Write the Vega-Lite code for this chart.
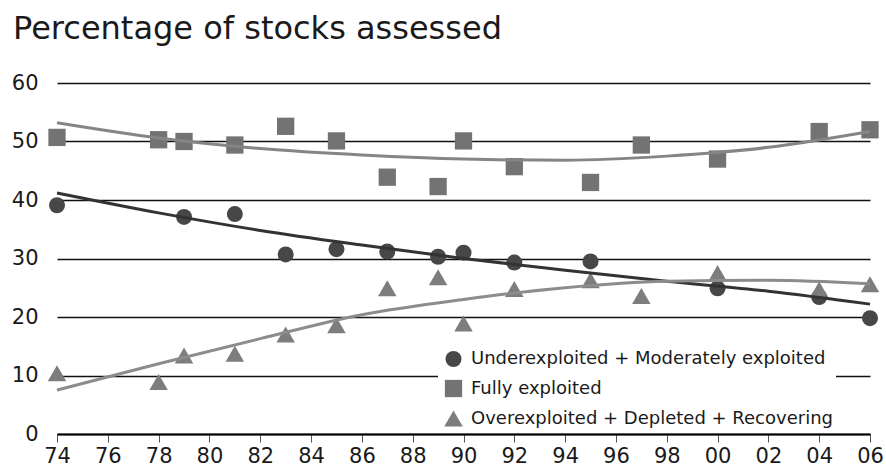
{
  "$schema": "https://vega.github.io/schema/vega-lite/v6.json",
  "width": 813,
  "height": 351,
  "autosize": {"type": "none"},
  "padding": {"left": 57, "top": 83, "right": 16, "bottom": 35},
  "background": "white",
  "title": {
    "text": "Percentage of stocks assessed",
    "anchor": "start",
    "frame": "group",
    "fontSize": 32,
    "font": "DejaVu Sans",
    "fontWeight": "normal",
    "color": "#1a1a1a",
    "dx": -44,
    "offset": 26
  },
  "config": {
    "view": {"stroke": null},
    "font": "DejaVu Sans"
  },
  "datasets": {
    "points": [
      {"year": 1974, "value": 39.1, "series": "Underexploited + Moderately exploited"},
      {"year": 1979, "value": 37.1, "series": "Underexploited + Moderately exploited"},
      {"year": 1981, "value": 37.6, "series": "Underexploited + Moderately exploited"},
      {"year": 1983, "value": 30.7, "series": "Underexploited + Moderately exploited"},
      {"year": 1985, "value": 31.6, "series": "Underexploited + Moderately exploited"},
      {"year": 1987, "value": 31.2, "series": "Underexploited + Moderately exploited"},
      {"year": 1989, "value": 30.3, "series": "Underexploited + Moderately exploited"},
      {"year": 1990, "value": 31.0, "series": "Underexploited + Moderately exploited"},
      {"year": 1992, "value": 29.3, "series": "Underexploited + Moderately exploited"},
      {"year": 1995, "value": 29.5, "series": "Underexploited + Moderately exploited"},
      {"year": 2000, "value": 24.9, "series": "Underexploited + Moderately exploited"},
      {"year": 2004, "value": 23.4, "series": "Underexploited + Moderately exploited"},
      {"year": 2006, "value": 19.8, "series": "Underexploited + Moderately exploited"},
      {"year": 1974, "value": 50.7, "series": "Fully exploited"},
      {"year": 1978, "value": 50.3, "series": "Fully exploited"},
      {"year": 1979, "value": 50.0, "series": "Fully exploited"},
      {"year": 1981, "value": 49.4, "series": "Fully exploited"},
      {"year": 1983, "value": 52.6, "series": "Fully exploited"},
      {"year": 1985, "value": 50.1, "series": "Fully exploited"},
      {"year": 1987, "value": 43.9, "series": "Fully exploited"},
      {"year": 1989, "value": 42.3, "series": "Fully exploited"},
      {"year": 1990, "value": 50.1, "series": "Fully exploited"},
      {"year": 1992, "value": 45.7, "series": "Fully exploited"},
      {"year": 1995, "value": 43.0, "series": "Fully exploited"},
      {"year": 1997, "value": 49.4, "series": "Fully exploited"},
      {"year": 2000, "value": 47.0, "series": "Fully exploited"},
      {"year": 2004, "value": 51.7, "series": "Fully exploited"},
      {"year": 2006, "value": 52.0, "series": "Fully exploited"},
      {"year": 1974, "value": 10.4, "series": "Overexploited + Depleted + Recovering"},
      {"year": 1978, "value": 8.9, "series": "Overexploited + Depleted + Recovering"},
      {"year": 1979, "value": 13.4, "series": "Overexploited + Depleted + Recovering"},
      {"year": 1981, "value": 13.7, "series": "Overexploited + Depleted + Recovering"},
      {"year": 1983, "value": 17.0, "series": "Overexploited + Depleted + Recovering"},
      {"year": 1985, "value": 18.6, "series": "Overexploited + Depleted + Recovering"},
      {"year": 1987, "value": 24.9, "series": "Overexploited + Depleted + Recovering"},
      {"year": 1989, "value": 26.8, "series": "Overexploited + Depleted + Recovering"},
      {"year": 1990, "value": 18.9, "series": "Overexploited + Depleted + Recovering"},
      {"year": 1992, "value": 24.8, "series": "Overexploited + Depleted + Recovering"},
      {"year": 1995, "value": 26.3, "series": "Overexploited + Depleted + Recovering"},
      {"year": 1997, "value": 23.6, "series": "Overexploited + Depleted + Recovering"},
      {"year": 2000, "value": 27.5, "series": "Overexploited + Depleted + Recovering"},
      {"year": 2004, "value": 24.7, "series": "Overexploited + Depleted + Recovering"},
      {"year": 2006, "value": 25.6, "series": "Overexploited + Depleted + Recovering"}
    ],
    "trend": [
      {"year": 1974, "value": 41.2, "series": "Underexploited + Moderately exploited"},
      {"year": 1978, "value": 37.8, "series": "Underexploited + Moderately exploited"},
      {"year": 1982, "value": 34.8, "series": "Underexploited + Moderately exploited"},
      {"year": 1986, "value": 32.3, "series": "Underexploited + Moderately exploited"},
      {"year": 1990, "value": 30.0, "series": "Underexploited + Moderately exploited"},
      {"year": 1994, "value": 28.0, "series": "Underexploited + Moderately exploited"},
      {"year": 1998, "value": 26.1, "series": "Underexploited + Moderately exploited"},
      {"year": 2002, "value": 24.4, "series": "Underexploited + Moderately exploited"},
      {"year": 2006, "value": 22.2, "series": "Underexploited + Moderately exploited"},
      {"year": 1974, "value": 53.2, "series": "Fully exploited"},
      {"year": 1978, "value": 50.6, "series": "Fully exploited"},
      {"year": 1982, "value": 48.8, "series": "Fully exploited"},
      {"year": 1986, "value": 47.7, "series": "Fully exploited"},
      {"year": 1990, "value": 47.0, "series": "Fully exploited"},
      {"year": 1994, "value": 46.8, "series": "Fully exploited"},
      {"year": 1998, "value": 47.5, "series": "Fully exploited"},
      {"year": 2002, "value": 49.0, "series": "Fully exploited"},
      {"year": 2006, "value": 51.7, "series": "Fully exploited"},
      {"year": 1974, "value": 7.5, "series": "Overexploited + Depleted + Recovering"},
      {"year": 1978, "value": 12.0, "series": "Overexploited + Depleted + Recovering"},
      {"year": 1982, "value": 16.3, "series": "Overexploited + Depleted + Recovering"},
      {"year": 1986, "value": 20.4, "series": "Overexploited + Depleted + Recovering"},
      {"year": 1990, "value": 23.0, "series": "Overexploited + Depleted + Recovering"},
      {"year": 1994, "value": 25.0, "series": "Overexploited + Depleted + Recovering"},
      {"year": 1998, "value": 26.1, "series": "Overexploited + Depleted + Recovering"},
      {"year": 2002, "value": 26.3, "series": "Overexploited + Depleted + Recovering"},
      {"year": 2006, "value": 25.7, "series": "Overexploited + Depleted + Recovering"}
    ]
  },
  "layer": [
    {
      "data": {"name": "points"},
      "mark": {"type": "point", "filled": true, "opacity": 1},
      "encoding": {
        "x": {
          "field": "year", "type": "quantitative",
          "scale": {"domain": [1974, 2006], "nice": false, "zero": false},
          "axis": {
            "values": [1974, 1976, 1978, 1980, 1982, 1984, 1986, 1988, 1990, 1992, 1994, 1996, 1998, 2000, 2002, 2004, 2006],
            "labelExpr": "slice(toString(datum.value), 2)",
            "grid": false,
            "domainColor": "#000000",
            "domainWidth": 2,
            "tickColor": "#555555",
            "tickSize": 8,
            "tickWidth": 1,
            "labelFontSize": 21,
            "labelColor": "#1a1a1a",
            "labelPadding": 3,
            "labelFlush": false,
            "labelOverlap": false,
            "title": null
          }
        },
        "y": {
          "field": "value", "type": "quantitative",
          "scale": {"domain": [0, 60], "nice": false},
          "axis": {
            "values": [0, 10, 20, 30, 40, 50, 60],
            "grid": true,
            "gridColor": "#111111",
            "gridWidth": 1.5,
            "domain": false,
            "ticks": false,
            "labelPadding": 19,
            "labelFontSize": 21,
            "labelColor": "#1a1a1a",
            "title": null
          }
        },
        "color": {
          "field": "series", "type": "nominal",
          "scale": {"domain": ["Underexploited + Moderately exploited", "Fully exploited", "Overexploited + Depleted + Recovering"], "range": ["#474747", "#737373", "#7d7d7d"]},
          "legend": {
            "title": null, "orient": "none", "legendX": 381, "legendY": 264,
            "fillColor": "white", "padding": 3, "labelFontSize": 18, "labelColor": "#1a1a1a",
            "labelOffset": 8, "rowPadding": 11.5, "labelLimit": 600, "symbolStrokeWidth": 0,
            "symbolOffset": 3
          }
        },
        "shape": {
          "field": "series", "type": "nominal",
          "scale": {"domain": ["Underexploited + Moderately exploited", "Fully exploited", "Overexploited + Depleted + Recovering"], "range": ["circle", "square", "triangle-up"]}
        },
        "size": {
          "field": "series", "type": "nominal",
          "scale": {"domain": ["Underexploited + Moderately exploited", "Fully exploited", "Overexploited + Depleted + Recovering"], "range": [256, 342, 460]}
        }
      }
    },
    {
      "data": {"name": "trend"},
      "mark": {"type": "line", "interpolate": "monotone", "strokeWidth": 3},
      "encoding": {
        "x": {"field": "year", "type": "quantitative"},
        "y": {"field": "value", "type": "quantitative"},
        "detail": {"field": "series"},
        "stroke": {
          "field": "series", "type": "nominal", "legend": null,
          "scale": {"domain": ["Underexploited + Moderately exploited", "Fully exploited", "Overexploited + Depleted + Recovering"], "range": ["#333333", "#858585", "#8c8c8c"]}
        }
      }
    }
  ]
}
